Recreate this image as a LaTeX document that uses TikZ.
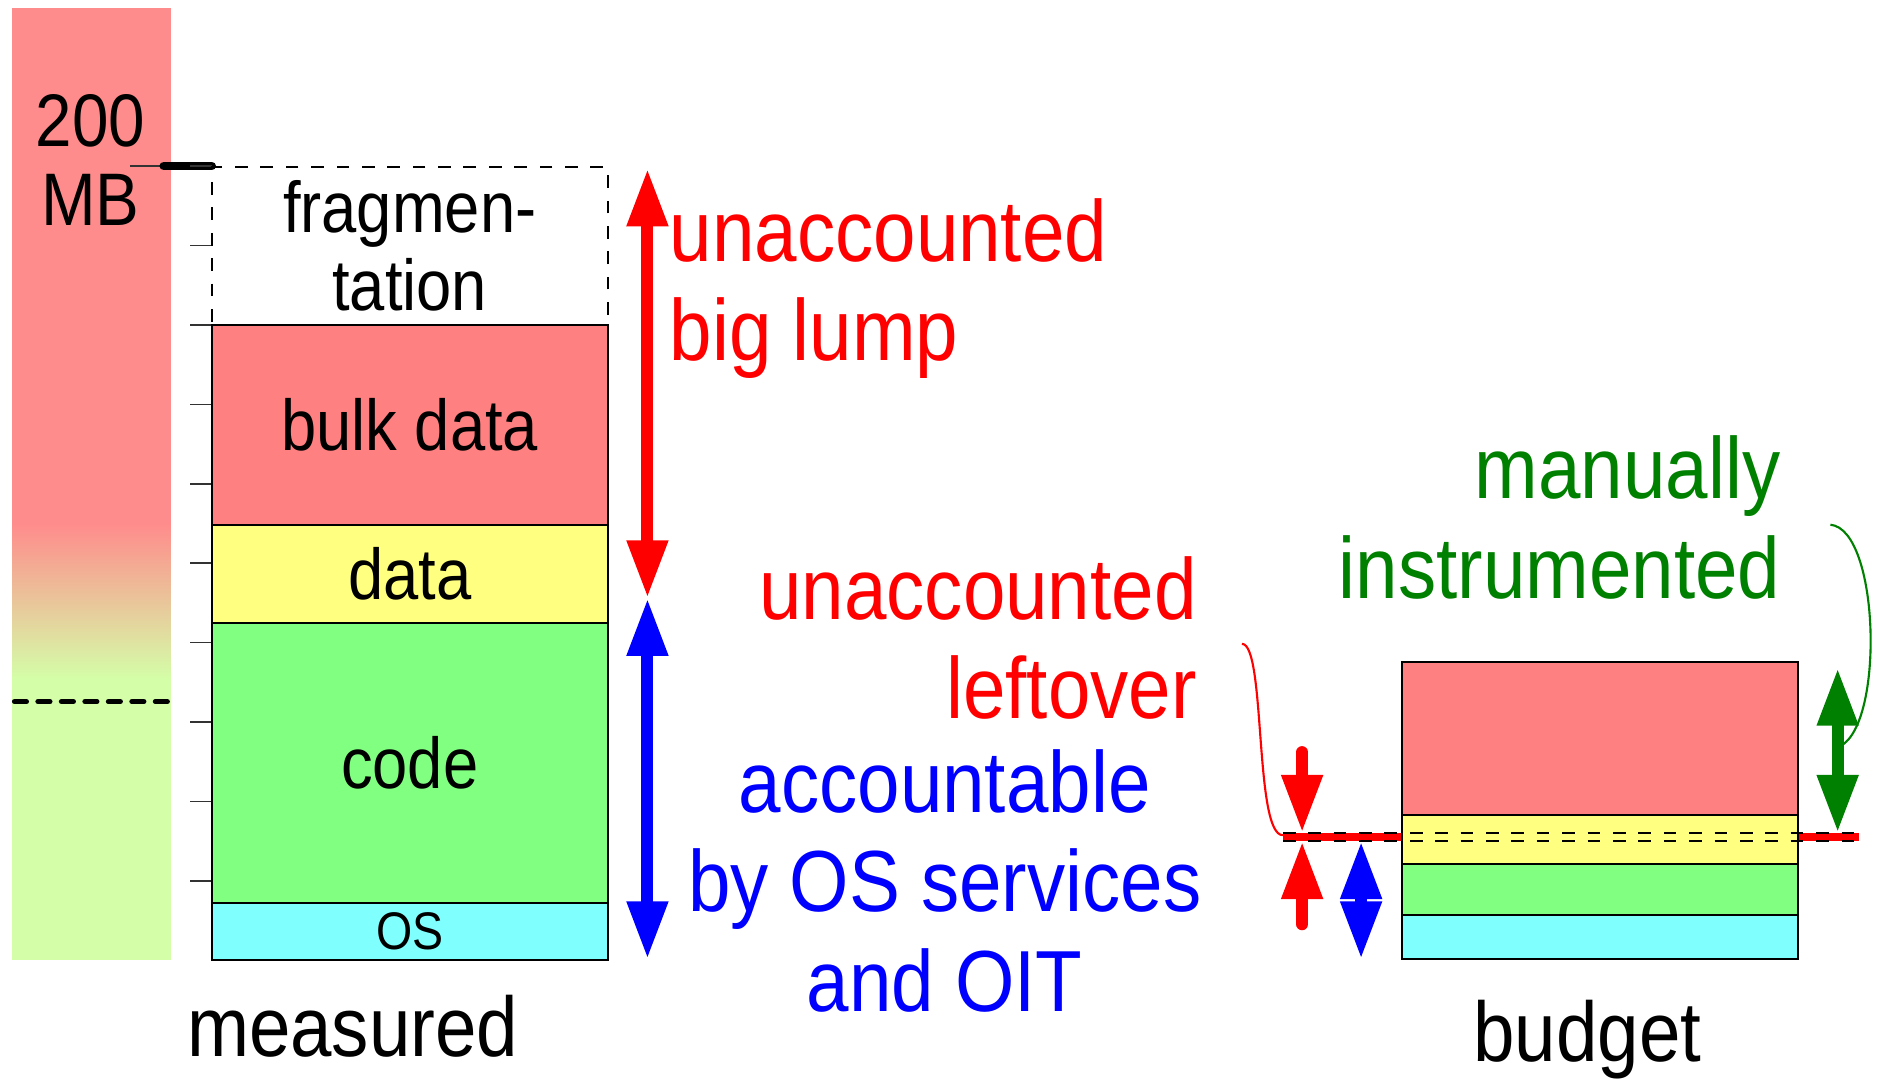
\documentclass[tikz,border=0pt]{standalone}
\usepackage{fontspec}
\setmainfont{Liberation Sans}[FakeStretch=0.88]
\usetikzlibrary{arrows.meta,shapes,calc}

\definecolor{bulkred}{HTML}{FF8080}
\definecolor{barred}{HTML}{FF8C8C}
\definecolor{bargreen}{HTML}{D4FFA8}
\definecolor{datayellow}{HTML}{FFFF80}
\definecolor{codegreen}{HTML}{80FF80}
\definecolor{oscyan}{HTML}{80FFFF}
\definecolor{darkgreen}{HTML}{008000}

\begin{document}
\begin{tikzpicture}[x=0.01cm,y=-0.01cm,>={Triangle[length=0.48cm,width=0.32cm]}]
            \tikzset{seg/.style = {draw=black, line width=0.5pt, inner sep=0pt, outer sep=0pt, minimum width=3.29cm, font=\fontsize{17}{18.5}\selectfont, align=center}}
            \tikzset{big/.style = {font=\fontsize{20.5}{23.5}\selectfont, inner sep=0pt}}
            \tikzset{label/.style = {font=\fontsize{20}{23}\selectfont, inner sep=0pt}}
            \tikzset{tick/.style = {draw=black!80, line width=0.4pt}}
            \tikzset{span/.style = {line width=0.1cm, <->}}
            \useasboundingbox (0,0) rectangle (1568,897);

            % scale bar
            \fill[barred] (10,7) rectangle (142,435);
            \shade[top color=barred, bottom color=bargreen] (10,435) rectangle (142,565);
            \fill[bargreen] (10,565) rectangle (142,798);
            \draw[line width=1.2pt, line cap=round, dash pattern=on 0.1cm off 0.095cm] (12,583) -- (143,583);
            \node[seg, draw=none, minimum width=0pt, font=\fontsize{17.6}{18.6}\selectfont] (mb) at (75,133) {200\\MB};
            \draw[tick] (108,138) -- (176,138);
            \draw[line width=2pt, line cap=round] (136,138) -- (176,138);
            \foreach \y in {0,...,9}
            {
              \draw[tick] (158,{138+66*\y}) -- (176,{138+66*\y});
            }

            % measured
            \node[seg, dashed, line width=0.4pt, minimum height=1.31cm] (frag) at (340.5,204.5) {fragmen-\\tation};
            \node[seg, fill=bulkred, minimum height=1.66cm] (bulk) at (340.5,353) {bulk data};
            \node[seg, fill=datayellow, minimum height=0.82cm] (data) at (340.5,477) {data};
            \node[seg, fill=codegreen, minimum height=2.32cm] (code) at (340.5,634) {code};
            \node[seg, fill=oscyan, minimum height=0.48cm, font=\fontsize{12.5}{13}\selectfont] (os) at (340.5,774) {OS};
            \node[label] (measured) at (293,853) {measured};

            % spans
            \coordinate (lumptop) at (538,140);
            \coordinate (split) at (538,497);
            \coordinate (accbot) at (538,797);
            \draw[span, red] (lumptop) -- (split);
            \draw[span, blue] (split) -- (accbot);
            \node[big, red, anchor=west, align=left] (lump) at (556,240) {unaccounted\\big lump};
            \node[big, red, anchor=east, align=right] (leftover) at (995,530) {unaccounted\\leftover};
            \node[big, blue, align=center] (acc) at (785,732) {accountable\\by OS services\\and OIT};
            \node[big, darkgreen, anchor=east, align=right] (manual) at (1480,430) {manually\\instrumented};

            % budget
            \fill[red] (1066,692) rectangle (1545,699);
            \node[seg, fill=bulkred, minimum height=1.27cm] (bred) at (1329.5,613.5) {};
            \node[seg, fill=datayellow, minimum height=0.41cm] (byel) at (1329.5,697.5) {};
            \node[seg, fill=codegreen, minimum height=0.42cm] (bgrn) at (1329.5,739) {};
            \node[seg, fill=oscyan, minimum height=0.37cm] (bcyan) at (1329.5,778.5) {};
            \draw[dashed, line width=0.4pt] (1066,692) -- (1548,692);
            \draw[dashed, line width=0.4pt] (1066,699) -- (1548,699);
            \node[label] (budget) at (1319,864) {budget};

            % markers
            \coordinate (lotop) at (1082,625);
            \coordinate (lotip) at (1082,692);
            \coordinate (lobot) at (1082,768);
            \coordinate (lotipb) at (1082,699);
            \draw[red, line width=0.1cm, line cap=round, ->] (lotop) -- (lotip);
            \draw[red, line width=0.1cm, line cap=round, ->] (lobot) -- (lotipb);
            \coordinate (ostop) at (1131,699);
            \coordinate (osbot) at (1131,797);
            \draw[span, blue] (ostop) -- (osbot);
            \coordinate (mitop) at (1527,555);
            \coordinate (mibot) at (1527,692);
            \draw[span, darkgreen] (mitop) -- (mibot);

            % leader lines
            \coordinate (lfstart) at (1032,535);
            \coordinate (lfend) at (1066,694);
            \draw[red, line width=0.5pt] (lfstart) .. controls (1052,535) and (1042,694) .. (lfend);
            \coordinate (mistart) at (1521,436);
            \coordinate (miend) at (1529,620);
            \draw[darkgreen, line width=0.5pt] (mistart) .. controls (1562,440) and (1566,602) .. (miend);

          \end{tikzpicture}
\end{document}
